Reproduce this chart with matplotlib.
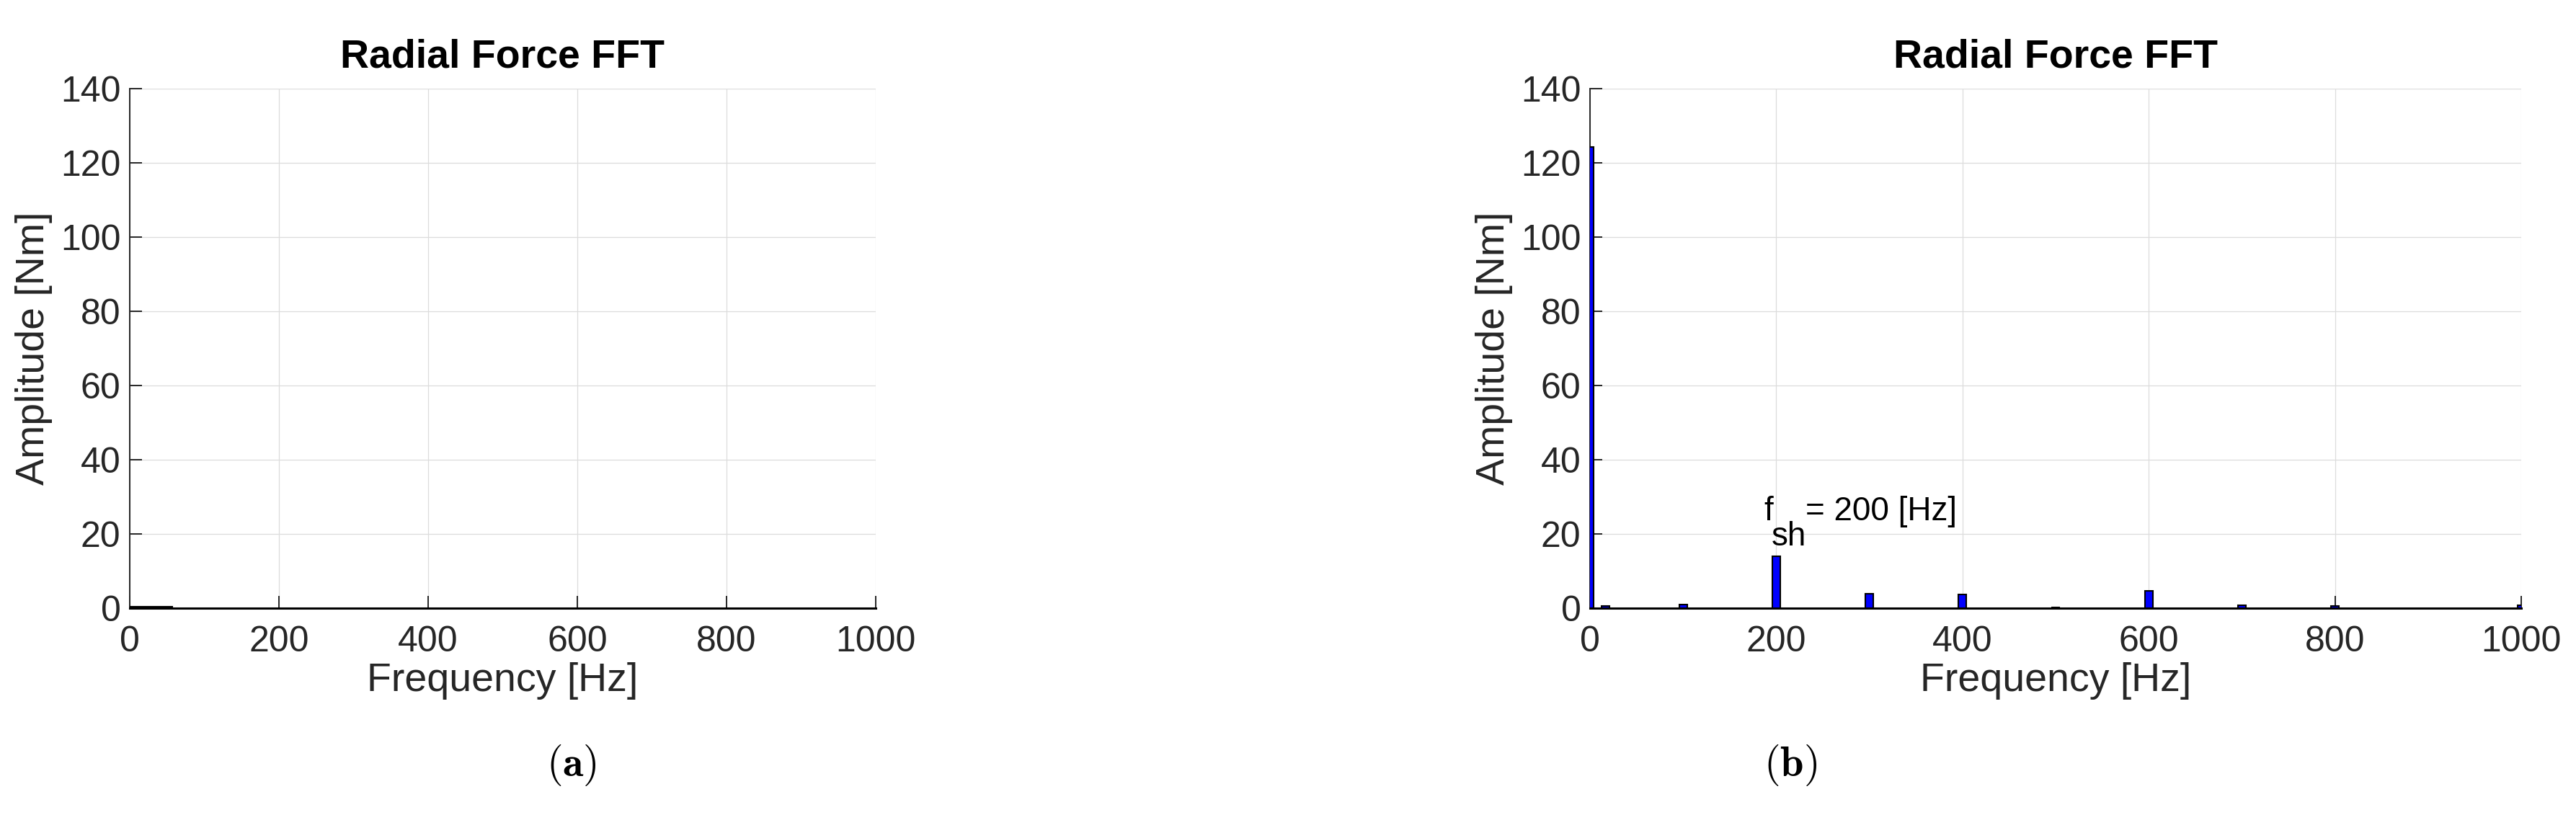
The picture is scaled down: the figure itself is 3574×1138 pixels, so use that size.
import matplotlib
matplotlib.use('Agg')
import matplotlib.pyplot as plt

plt.rcParams['font.family'] = ['Liberation Sans', 'DejaVu Sans']
plt.rcParams['mathtext.fontset'] = 'cm'

# spectrum values
freq_a = [0]
amp_a = [0.3]
width_a = 114

freq_b = [0, 17, 100, 200, 300, 400, 500, 600, 700, 800, 1000]
amp_b = [124.3, 0.6, 1.0, 13.9, 3.9, 3.7, 0.25, 4.7, 0.8, 0.6, 0.8]
width_b = 8.5

x_ticks = [0, 200, 400, 600, 800, 1000]
y_ticks = [0, 20, 40, 60, 80, 100, 120, 140]

W, H = 3574, 1138
fig = plt.figure(figsize=(W / 100, H / 100), dpi=100)

ax_a = fig.add_axes([180 / W, 1 - 844 / H, 1035 / W, 721 / H])
ax_b = fig.add_axes([2206 / W, 1 - 844 / H, 1292 / W, 721 / H])

tick_col = '#262626'


def style(ax):
    ax.set_xlim(0, 1000)
    ax.set_ylim(0, 140)
    ax.set_xticks(x_ticks)
    ax.set_yticks(y_ticks)
    ax.grid(True, color='#dcdcdc', linewidth=0.9)
    ax.set_axisbelow(True)
    ax.spines['top'].set_visible(False)
    ax.spines['right'].set_visible(False)
    ax.spines['left'].set_color(tick_col)
    ax.spines['left'].set_linewidth(1.4)
    ax.spines['bottom'].set_color('black')
    ax.spines['bottom'].set_linewidth(2.2)
    ax.tick_params(axis='both', direction='in', length=12, width=1.4,
                   colors=tick_col, labelsize=36)
    ax.tick_params(axis='x', pad=17)
    ax.tick_params(axis='y', pad=9)
    ax.set_title('Radial Force FFT', fontsize=40, fontweight='bold', pad=21)
    ax.set_xlabel('Frequency [Hz]', fontsize=40, color=tick_col, labelpad=4)
    ax.set_ylabel('Amplitude [Nm]', fontsize=40, color=tick_col, labelpad=8)


style(ax_a)
style(ax_b)

ax_a.bar(freq_a, amp_a, width=width_a, color='#0000ff', edgecolor='black',
         linewidth=1.5, zorder=3)
ax_b.bar(freq_b, amp_b, width=width_b, color='#0000ff', edgecolor='black',
         linewidth=1.5, zorder=3)

# MATLAB-style subscript annotation
ax_b.text(186.5, 23.7, 'f', fontsize=33, ha='left', va='baseline')
ax_b.text(195, 16.9, 'sh', fontsize=33, ha='left', va='baseline')
ax_b.text(231.4, 23.7, '= 200 [Hz]', fontsize=33, ha='left', va='baseline')

fig.text(793 / W, 1 - 1062 / H, r'$(\mathbf{a})$', fontsize=42,
         ha='center', va='center')
fig.text(2484 / W, 1 - 1062 / H, r'$(\mathbf{b})$', fontsize=42,
         ha='center', va='center')

fig.savefig('out.png', dpi=100)
